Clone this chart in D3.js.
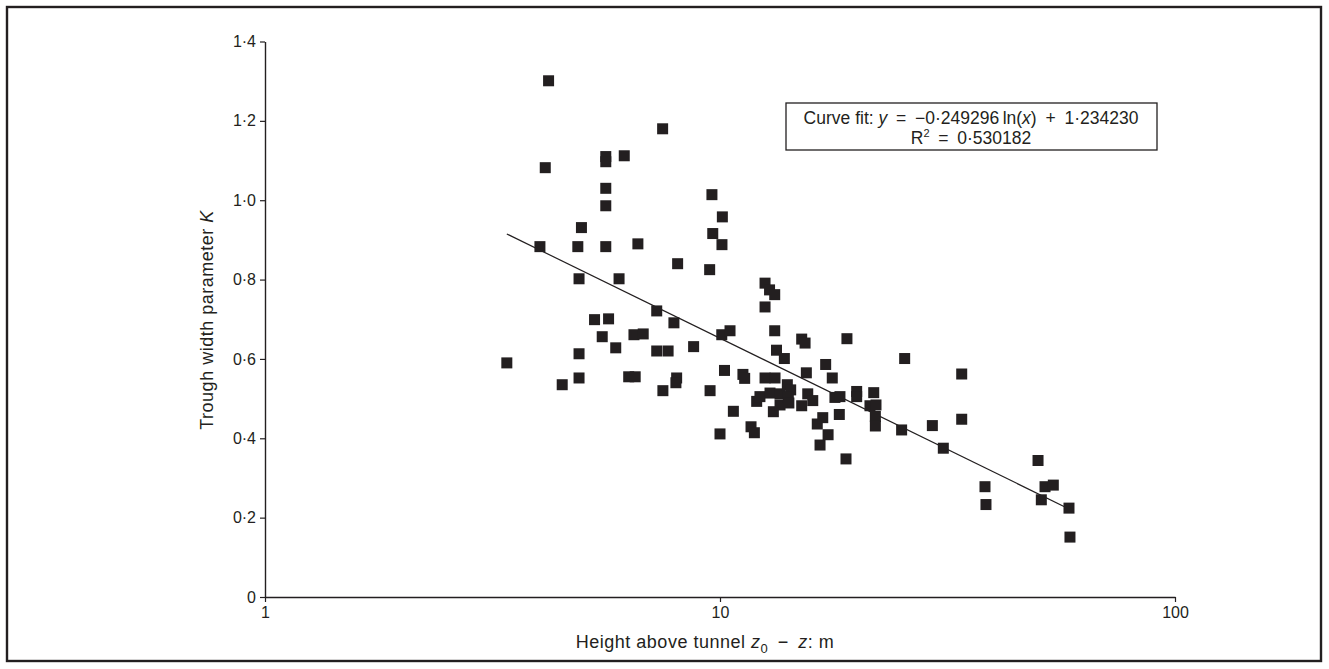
<!DOCTYPE html>
<html>
<head>
<meta charset="utf-8">
<script src="https://cdn.jsdelivr.net/npm/d3@7"></script>
<style>
  body { margin: 0; background: #fff; }
  svg { display: block; font-family: "Liberation Sans", Arial, sans-serif; }
</style>
</head>
<body>
<div class="visHolder"></div>
<script>
// measured points: height above tunnel (m) and trough width parameter K
const heightVals = [3.40, 4.02, 4.13, 4.20, 4.50, 4.90, 4.90, 4.90, 4.87, 4.96,
  5.30, 5.51, 5.61, 5.61, 5.61, 5.61, 5.61, 5.69, 5.90, 6.00,
  6.16, 6.30, 6.51, 6.47, 6.78, 6.60, 7.26, 7.26, 7.48, 7.49,
  7.69, 7.92, 8.03, 8.00, 8.07, 8.75, 9.49, 9.51, 9.60, 9.64,
  10.0, 10.09, 10.10, 10.12, 10.23, 10.52, 10.70, 11.23, 11.33, 11.70,
  11.90, 12.04, 12.24, 12.56, 12.85, 13.19, 12.56, 12.56, 13.21, 12.88,
  13.19, 13.31, 13.10, 13.55, 13.55, 13.85, 14.06, 14.30, 14.13, 14.17,
  15.12, 15.38, 15.12, 15.48, 15.59, 15.99, 16.36, 16.82, 16.59, 17.07,
  17.28, 17.65, 17.89, 18.35, 18.29, 18.92, 19.01, 19.97, 19.97, 21.36,
  22.02, 21.77, 21.95, 21.95, 25.07, 25.46, 29.29, 30.96, 33.98, 33.98,
  38.23, 38.42, 50.00, 50.84, 51.80, 54.02, 58.48, 58.77];
const kVals = [0.590, 0.883, 1.082, 1.301, 0.535, 0.552, 0.613, 0.802, 0.883, 0.931,
  0.699, 0.656, 1.110, 1.097, 1.030, 0.986, 0.883, 0.701, 0.628, 0.802,
  1.112, 0.555, 0.555, 0.661, 0.663, 0.890, 0.721, 0.620, 1.180, 0.520,
  0.620, 0.691, 0.552, 0.540, 0.840, 0.631, 0.825, 0.520, 1.014, 0.916,
  0.411, 0.661, 0.888, 0.958, 0.571, 0.671, 0.468, 0.561, 0.551, 0.429,
  0.414, 0.493, 0.505, 0.791, 0.774, 0.762, 0.731, 0.552, 0.552, 0.514,
  0.671, 0.622, 0.467, 0.512, 0.484, 0.601, 0.535, 0.522, 0.505, 0.489,
  0.650, 0.640, 0.482, 0.565, 0.512, 0.495, 0.436, 0.452, 0.383, 0.586,
  0.409, 0.552, 0.503, 0.505, 0.460, 0.348, 0.651, 0.518, 0.505, 0.482,
  0.484, 0.515, 0.455, 0.431, 0.421, 0.601, 0.432, 0.375, 0.562, 0.448,
  0.278, 0.233, 0.344, 0.245, 0.278, 0.282, 0.224, 0.151];

// fitted line end points (straight on a log axis)
const fitHeight = [3.4, 58.5];
const fitK = [0.915, 0.222];

const xTicks = [1, 10, 100];
const yTicks = [0, 0.2, 0.4, 0.6, 0.8, 1.0, 1.2, 1.4];

const w = 1329;
const h = 669;
const ink = "#231f20";

const xScale = d3.scaleLog().domain([1, 100]).range([265, 1175]);
const yScale = d3.scaleLinear().domain([0, 1.4]).range([597, 41.5]);

const svg = d3.select(".visHolder")
              .append("svg")
              .attr("width", w)
              .attr("height", h);

// outer frame
svg.append("rect")
   .attr("x", 7).attr("y", 7)
   .attr("width", 1314).attr("height", 654)
   .attr("fill", "none")
   .attr("stroke", ink)
   .attr("stroke-width", 2.4);

// axes
const fmt = d => d === 0 ? "0" : d3.format(".1f")(d).replace(".", "\u00b7");

const yAxis = svg.append("g")
   .attr("transform", "translate(265,0)")
   .call(d3.axisLeft(yScale).tickValues(yTicks).tickFormat(fmt).tickSize(5).tickSizeOuter(0).tickPadding(4));

const xAxis = svg.append("g")
   .attr("transform", "translate(0,597)")
   .call(d3.axisBottom(xScale).tickValues(xTicks).tickFormat(d3.format("d")).tickSize(5).tickSizeOuter(0).tickPadding(5));

[xAxis, yAxis].forEach(a => {
  a.select(".domain").attr("stroke", ink).attr("stroke-width", 1.4);
  a.selectAll(".tick line").attr("stroke", ink).attr("stroke-width", 1.2);
  a.selectAll(".tick text").attr("fill", ink).style("font-size", "16px")
   .style("font-family", "'Liberation Sans', Arial, sans-serif");
});

// fit line
const line = d3.line().x(d => xScale(d[0])).y(d => yScale(d[1]));
svg.append("path")
   .datum(fitHeight.map((v, i) => [v, fitK[i]]))
   .attr("d", line)
   .attr("fill", "none")
   .attr("stroke", ink)
   .attr("stroke-width", 1.2);

// squares
const s = 11;
svg.selectAll("rect.pt")
   .data(heightVals.map((v, i) => [v, kVals[i]]))
   .enter()
   .append("rect")
   .attr("class", "pt")
   .attr("x", d => xScale(d[0]) - s / 2)
   .attr("y", d => yScale(d[1]) - s / 2)
   .attr("width", s)
   .attr("height", s)
   .attr("fill", ink);

// axis titles
const xt = svg.append("text")
   .attr("x", 705).attr("y", 648)
   .attr("text-anchor", "middle")
   .attr("fill", ink)
   .style("font-size", "18px")
   .style("letter-spacing", "0.5px");
xt.append("tspan").text("Height above tunnel ");
xt.append("tspan").attr("font-style", "italic").text("z");
xt.append("tspan").attr("dy", 5).style("font-size", "13px").text("0");
xt.append("tspan").attr("dy", -5).text("\u2002\u2212\u2002");
xt.append("tspan").attr("font-style", "italic").text("z");
xt.append("tspan").text(": m");

const yt = svg.append("text")
   .attr("transform", "translate(213,320) rotate(-90)")
   .attr("text-anchor", "middle")
   .attr("fill", ink)
   .style("font-size", "18px")
   .style("letter-spacing", "0.5px");
yt.append("tspan").text("Trough width parameter ");
yt.append("tspan").attr("font-style", "italic").text("K");

// curve fit box
svg.append("rect")
   .attr("x", 786).attr("y", 103)
   .attr("width", 371).attr("height", 47)
   .attr("fill", "#fff")
   .attr("stroke", ink)
   .attr("stroke-width", 1.3);

const t1 = svg.append("text")
   .attr("x", 971).attr("y", 124)
   .attr("text-anchor", "middle")
   .attr("fill", ink)
   .style("font-size", "17.5px");
t1.append("tspan").text("Curve fit: ");
t1.append("tspan").attr("font-style", "italic").text("y");
t1.append("tspan").text("\u2002=\u2002\u22120\u00b7249296\u2009ln(");
t1.append("tspan").attr("font-style", "italic").text("x");
t1.append("tspan").text(")\u2002+\u20021\u00b7234230");

const t2 = svg.append("text")
   .attr("x", 971).attr("y", 144)
   .attr("text-anchor", "middle")
   .attr("fill", ink)
   .style("font-size", "17.5px");
t2.append("tspan").text("R");
t2.append("tspan").attr("dy", -7).style("font-size", "11px").text("2");
t2.append("tspan").attr("dy", 7).text("\u2002=\u20020\u00b7530182");
</script>
</body>
</html>
